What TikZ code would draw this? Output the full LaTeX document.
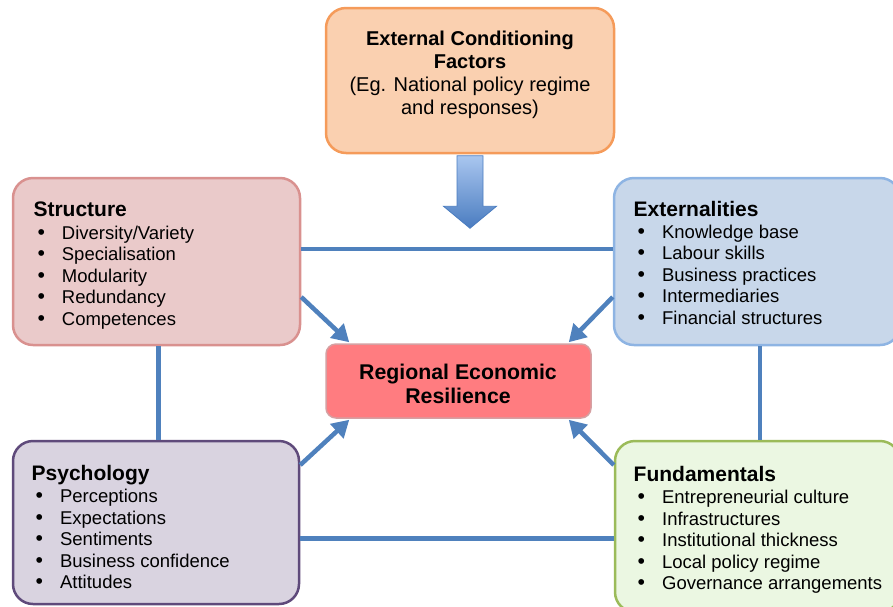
\documentclass[tikz,border=0pt]{standalone}
\usepackage{fontspec}
\setmainfont{Liberation Sans}
\usetikzlibrary{calc,arrows.meta}
\definecolor{toppeach}{HTML}{FAD0B0}
\definecolor{topborder}{HTML}{F59B5A}
\definecolor{strfill}{HTML}{EACACA}
\definecolor{strborder}{HTML}{D9918F}
\definecolor{extfill}{HTML}{C8D7EA}
\definecolor{extborder}{HTML}{8EB4E3}
\definecolor{cenfill}{HTML}{FF7C80}
\definecolor{cenborder}{HTML}{D5A0A2}
\definecolor{psyfill}{HTML}{D9D3E0}
\definecolor{psyborder}{HTML}{5F4A7B}
\definecolor{funfill}{HTML}{EBF7E2}
\definecolor{funborder}{HTML}{9BBB59}
\definecolor{lineblue}{HTML}{4F81BD}
\definecolor{arrowlight}{HTML}{A9C6EF}
\definecolor{arrowdark}{HTML}{4A7CC0}
\newcommand\bul{\makebox[28.4pt][l]{\hspace{4pt}\scalebox{1.15}{•}}}
\newcommand\hd[1]{{\bfseries\fontsize{21}{21}\selectfont #1}}
\begin{document}
\begin{tikzpicture}[x=1pt,y=-1pt,
  box/.style={draw, line width=2.5pt, rounded corners=20pt, inner sep=0pt},
  conn/.style={draw=lineblue, line width=4.5pt},
  arr/.style={conn, -{Triangle[length=17pt,width=19pt]}},
  list/.style={anchor=north west, inner sep=0pt, align=left, font=\fontsize{18.5}{21.5}\selectfont}]
\useasboundingbox (0,0) rectangle (893,606);
% boxes
\node[box, draw=topborder, fill=toppeach, minimum width=288pt, minimum height=145pt] (top) at (470,80.5) {};
\node[box, draw=strborder, fill=strfill, minimum width=287pt, minimum height=167pt] (str) at (156.5,261.5) {};
\node[box, draw=extborder, fill=extfill, minimum width=286pt, minimum height=167pt] (ext) at (757,261.5) {};
\node[box, draw=psyborder, fill=psyfill, minimum width=286pt, minimum height=163pt] (psy) at (156,522.5) {};
\node[box, draw=funborder, fill=funfill, minimum width=285pt, minimum height=171pt] (fun) at (757.5,526.5) {};
\node[draw=cenborder, line width=1.5pt, fill=cenfill, rounded corners=10pt, inner sep=0pt, minimum width=265pt, minimum height=74pt] (cen) at (458.5,381) {};
% texts
\node[font=\fontsize{20}{23}\selectfont, align=center] (toptext) at (470,75)
  {\textbf{External Conditioning}\\\textbf{Factors}\\(Eg. National policy regime\\and responses)};
\node[font=\bfseries\fontsize{21.3}{24}\selectfont, align=center] (centext) at (458,384)
  {Regional Economic\\Resilience};
\node[list] (strtext) at (33.3,201.5)
  {\hd{Structure}\\[1.5pt]\bul Diversity/Variety\\\bul Specialisation\\\bul Modularity\\\bul Redundancy\\\bul Competences};
\node[list] (exttext) at (633.5,201)
  {\hd{Externalities}\\[0.5pt]\bul Knowledge base\\\bul Labour skills\\\bul Business practices\\\bul Intermediaries\\\bul Financial structures};
\node[list] (psytext) at (31.5,465)
  {\hd{Psychology}\\[1pt]\bul Perceptions\\\bul Expectations\\\bul Sentiments\\\bul Business confidence\\\bul Attitudes};
\node[list] (funtext) at (633.5,466)
  {\hd{Fundamentals}\\[1pt]\bul Entrepreneurial culture\\\bul Infrastructures\\\bul Institutional thickness\\\bul Local policy regime\\\bul Governance arrangements};
% block arrow
\draw[draw=arrowdark, line width=0.8pt, top color=arrowlight, bottom color=arrowdark]
  ($(top.south)+(-13,1.5)$) -- ($(top.south)+(-13,52)$) -- ($(top.south)+(-26.5,52)$)
  -- ($(top.south)+(0,74)$) -- ($(top.south)+(26.5,52)$) -- ($(top.south)+(13,52)$)
  -- ($(top.south)+(13,1.5)$) -- cycle;
% connectors
\coordinate (h1) at ($(str.east)+(0,-12.5)$);
\draw[conn] (h1) -- (h1 -| ext.west);
\coordinate (h2) at ($(psy.east)+(0,16)$);
\draw[conn] (h2) -- (h2 -| fun.west);
\coordinate (v1) at ($(str.south)+(2,0)$);
\draw[conn] (v1) -- (v1 |- psy.north);
\coordinate (v2) at ($(ext.south)+(3,0)$);
\draw[conn] (v2) -- (v2 |- fun.north);
% diagonal arrows
\draw[arr] ($(str.east)+(0,35.5)$) -- ($(cen.north west)+(24,-1)$);
\draw[arr] ($(ext.west)+(0,35.5)$) -- ($(cen.north east)+(-23,-1)$);
\draw[arr] ($(psy.east)+(0,-57.5)$) -- ($(cen.south west)+(24,1)$);
\draw[arr] ($(fun.west)+(0,-61.5)$) -- ($(cen.south east)+(-23,1)$);
\end{tikzpicture}
\end{document}
